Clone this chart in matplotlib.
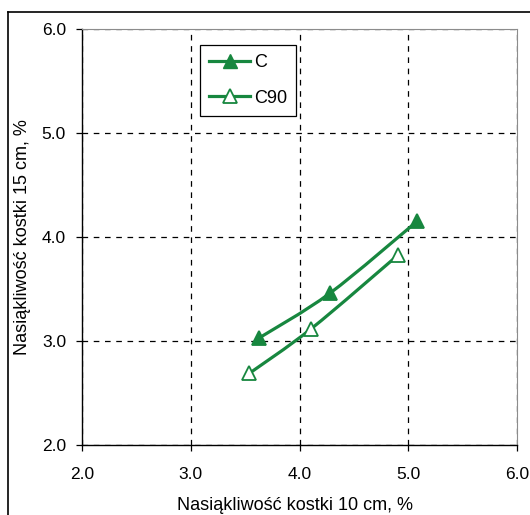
import numpy as np
import matplotlib
matplotlib.use("Agg")
import matplotlib.pyplot as plt
from matplotlib.path import Path
from matplotlib.patches import PathPatch
from matplotlib.lines import Line2D

plt.rcParams['font.family'] = ['Liberation Sans', 'DejaVu Sans']

# data
c_x = [3.63, 4.28, 5.08]
c_y = [3.03, 3.46, 4.15]
c90_x = [3.54, 4.11, 4.91]
c90_y = [2.69, 3.12, 3.83]
ticks = [2.0, 3.0, 4.0, 5.0, 6.0]
green = '#17873F'


def smooth_path(xs, ys):
    # Excel-style smoothed line (Catmull-Rom drawn as cubic Bezier)
    pts = np.column_stack([xs, ys])
    verts = [pts[0]]
    codes = [Path.MOVETO]
    n = len(pts)
    for i in range(n - 1):
        p0 = pts[i - 1] if i > 0 else pts[i]
        p1, p2 = pts[i], pts[i + 1]
        p3 = pts[i + 2] if i + 2 < n else pts[i + 1]
        verts += [p1 + (p2 - p0) / 6, p2 - (p3 - p1) / 6, p2]
        codes += [Path.CURVE4] * 3
    return Path(verts, codes)


fig = plt.figure(figsize=(5.30, 5.15), dpi=100)
ax = fig.add_axes([82 / 530, 70 / 515, 435 / 530, 416 / 515])

for xs, ys, face in [(c_x, c_y, green), (c90_x, c90_y, 'white')]:
    ax.add_patch(PathPatch(smooth_path(xs, ys), fill=False, edgecolor=green, lw=2.3, zorder=3))
    ax.plot(xs, ys, ls='none', marker='^', ms=10.5, mfc=face, mec=green, mew=1.3, zorder=4)

ax.set_xlim(2, 6)
ax.set_ylim(2, 6)
ax.set_xticks(ticks)
ax.set_yticks(ticks)
ax.set_xticklabels(['%.1f' % t for t in ticks])
ax.set_yticklabels(['%.1f' % t for t in ticks])
ax.tick_params(direction='out', length=4.5, width=0.9, labelsize=12.5, pad=7, colors='black')
ax.tick_params(axis='x', pad=11.5)
ax.grid(True, color='black', ls=(0, (4.5, 4.5)), lw=0.9)
ax.set_axisbelow(True)
for s in ['top', 'right']:
    ax.spines[s].set_color('#8c8c8c')
for s in ['left', 'bottom']:
    ax.spines[s].set_linewidth(1.0)

ax.set_xlabel('Nasiąkliwość kostki 10 cm, %', fontsize=13, labelpad=10)
ax.xaxis.set_label_coords(0.49, -0.125)
ax.set_ylabel('Nasiąkliwość kostki 15 cm, %', fontsize=13, labelpad=8)

handles = [
    Line2D([], [], color=green, lw=2.3, marker='^', ms=10.5, mfc=green, mec=green),
    Line2D([], [], color=green, lw=2.3, marker='^', ms=10.5, mfc='white', mec=green, mew=1.3),
]
leg = ax.legend(handles, ['C', 'C90'], loc='upper left', bbox_to_anchor=(0.271, 0.962),
                fancybox=False, framealpha=1, edgecolor='black', fontsize=13,
                handlelength=2.3, handletextpad=0.2, labelspacing=1.05,
                borderpad=0.5, borderaxespad=0)
leg.get_frame().set_linewidth(0.9)

# outer chart frame (cut off at right and bottom)
fig.add_artist(Line2D([8 / 530, 8 / 530], [0, 1 - 12 / 515], transform=fig.transFigure, color='black', lw=1.2))
fig.add_artist(Line2D([8 / 530, 1], [1 - 12 / 515, 1 - 12 / 515], transform=fig.transFigure, color='black', lw=1.2))

fig.savefig('out.png', dpi=100)
